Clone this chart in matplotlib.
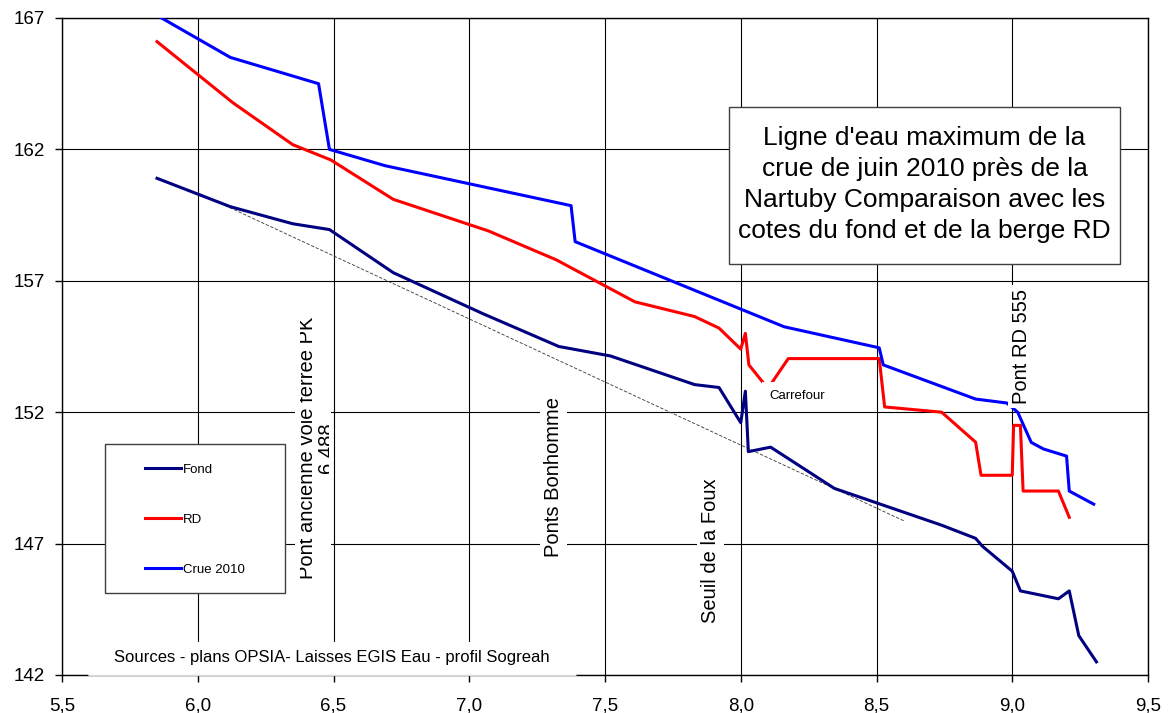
import matplotlib
matplotlib.use('Agg')
import matplotlib.pyplot as plt
from matplotlib.patches import Rectangle
from matplotlib.transforms import Bbox, TransformedBbox

plt.rcParams['font.family'] = ['Liberation Sans', 'DejaVu Sans']

# points kilometriques (km) et cotes (m NGF)
pk_fond = [5.85, 6.12, 6.35, 6.485, 6.72, 7.05, 7.33, 7.52, 7.83, 7.92, 8.00, 8.017,
           8.028, 8.11, 8.345, 8.74, 8.865, 8.89, 9.00, 9.03, 9.17, 9.21, 9.245, 9.31]
cote_fond = [160.9, 159.82, 159.17, 158.95, 157.31, 155.75, 154.5, 154.14, 153.05, 152.94, 151.6, 152.8,
             150.5, 150.67, 149.1, 147.7, 147.2, 146.9, 145.95, 145.2, 144.9, 145.2, 143.5, 142.5]

pk_rd = [5.85, 6.13, 6.35, 6.49, 6.72, 7.07, 7.32, 7.61, 7.83, 7.92, 8.00, 8.017, 8.03,
         8.10, 8.175, 8.51, 8.53, 8.74, 8.865, 8.885, 9.00, 9.005, 9.03, 9.04, 9.17, 9.21]
cote_rd = [166.1, 163.77, 162.18, 161.6, 160.1, 158.9, 157.8, 156.2, 155.64, 155.2, 154.4, 155.0, 153.8,
           152.9, 154.04, 154.04, 152.2, 152.0, 150.86, 149.6, 149.6, 151.5, 151.5, 149.0, 149.0, 148.0]

pk_crue = [5.85, 6.12, 6.445, 6.485, 6.69, 7.375, 7.39, 8.16, 8.51, 8.525, 8.865, 8.98,
           9.02, 9.07, 9.115, 9.2, 9.21, 9.30]
cote_crue = [167.1, 165.5, 164.5, 162.0, 161.38, 159.86, 158.49, 155.25, 154.45, 153.8, 152.5, 152.35,
             152.0, 150.85, 150.6, 150.33, 149.0, 148.5]

# pente moyenne du fond
pk_tendance = [6.0, 8.6]
cote_tendance = [160.35, 147.87]

xticks = [5.5, 6.0, 6.5, 7.0, 7.5, 8.0, 8.5, 9.0, 9.5]
xtick_labels = ['5,5', '6,0', '6,5', '7,0', '7,5', '8,0', '8,5', '9,0', '9,5']
yticks = [142, 147, 152, 157, 162, 167]

fig = plt.figure(figsize=(11.7, 7.13), dpi=100)
ax = fig.add_axes([62 / 1170, 38 / 713, 1086 / 1170, 657 / 713])

ax.plot(pk_fond, cote_fond, color='#000080', lw=2.2, label='Fond', zorder=3)
ax.plot(pk_rd, cote_rd, color='#ff0000', lw=2.2, label='RD', zorder=3)
ax.plot(pk_crue, cote_crue, color='#0000ff', lw=2.2, label='Crue 2010', zorder=3)
ax.plot(pk_tendance, cote_tendance, color='#333333', lw=0.6, dashes=(4, 2), zorder=2.8)

ax.set_xlim(5.5, 9.5)
ax.set_ylim(142, 167)
ax.set_xticks(xticks, xtick_labels)
ax.set_yticks(yticks)
ax.grid(True, color='black', lw=0.8)
ax.set_axisbelow(True)
ax.tick_params(direction='out', length=5, width=1, labelsize=13.5)
ax.tick_params(axis='y', pad=7)
ax.tick_params(axis='x', pad=11)
for s in ax.spines.values():
    s.set_linewidth(1)

# reperes (ouvrages)
lab = dict(rotation=90, ha='center', va='center', fontsize=14.5, zorder=6,
           bbox=dict(boxstyle='square,pad=0.2', fc='white', ec='none'))
ax.text(7.312, 149.55, 'Ponts Bonhomme', **lab)
ax.text(7.887, 146.74, 'Seuil de la Foux', **lab)
ax.text(9.035, 154.5, 'Pont RD 555', **lab)

# zone de texte trop etroite : le libelle est coupe
x0, x1, y0, y1 = 6.360, 6.489, 145.44, 155.82
ax.add_patch(Rectangle((x0, y0), x1 - x0, y1 - y0, fc='white', ec='none', zorder=5))
t = ax.text(6.4395, 150.65, 'Pont ancienne voie ferrée PK\n6.488', rotation=90, ha='center',
            va='center', fontsize=14.5, zorder=6, multialignment='center', linespacing=0.95,
            clip_on=True)
t.set_clip_box(TransformedBbox(Bbox([[6.375, y0], [6.482, y1]]), ax.transData))

ax.text(8.209, 152.63, 'Carrefour', ha='center', va='center', fontsize=9.5, zorder=6,
        bbox=dict(boxstyle='square,pad=0.55', fc='white', ec='none'))

# sources
ax.add_patch(Rectangle((5.596, 142.0), 1.797, 1.24, fc='white', ec='none', zorder=5, clip_on=False))
ax.hlines(142, 5.596, 7.393, color='#d9d9d9', lw=1, zorder=6, clip_on=False)
ax.text(6.493, 142.66, 'Sources - plans OPSIA- Laisses EGIS Eau - profil Sogreah',
        ha='center', va='center', fontsize=12, zorder=6)

# titre
ax.add_patch(Rectangle((7.958, 157.65), 1.439, 5.975, fc='white', ec='#404040', lw=1, zorder=5))
ax.text(8.677, 160.66, "Ligne d'eau maximum de la\ncrue de juin 2010 près de la\n"
        "Nartuby Comparaison avec les\ncotes du fond et de la berge RD",
        ha='center', va='center', fontsize=19, linespacing=1.36, zorder=6)

# legende
ax.add_patch(Rectangle((5.659, 145.13), 0.664, 5.67, fc='white', ec='#404040', lw=1, zorder=5))
leg = ax.legend(loc='upper left', bbox_to_anchor=(5.806, 150.05), bbox_transform=ax.transData,
                frameon=False, fontsize=9.5, handlelength=2.7, handletextpad=0.15,
                labelspacing=2.87, borderpad=0, borderaxespad=0)
leg.set_zorder(7)

fig.savefig('out.png', dpi=100)
